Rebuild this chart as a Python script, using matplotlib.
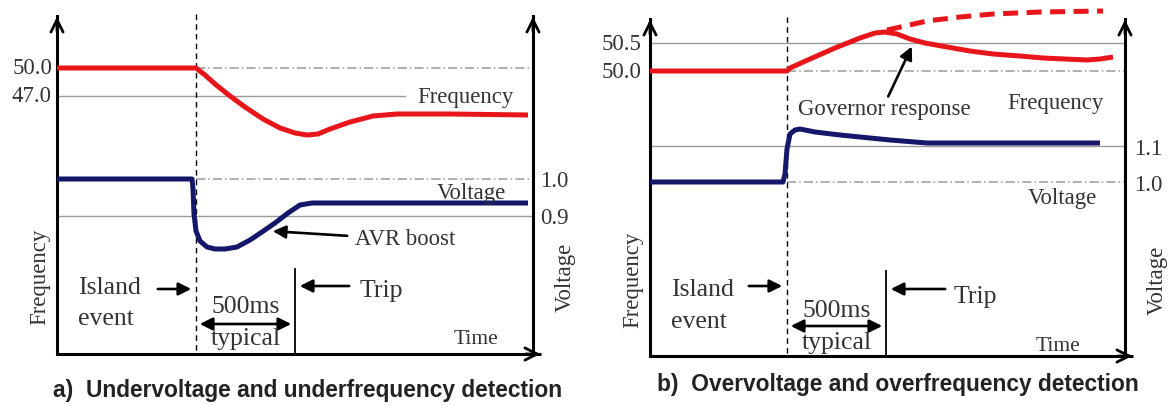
import matplotlib
matplotlib.use("Agg")
import matplotlib.pyplot as plt

# ---------------- data (schematic curves, in image units) ----------------
# Panel a: undervoltage / underfrequency
freq_a_x = [57, 196, 205, 215, 230, 245, 263, 280, 295, 307, 318, 330, 350, 373, 397, 450, 528]
freq_a_y = [69, 69, 76, 85, 97, 108, 120, 129, 134, 136, 135, 130, 123, 117, 115, 115, 116]
volt_a_x = [57, 192, 193, 194, 196, 200, 207, 215, 225, 237, 250, 262, 275, 288, 300, 312, 528]
volt_a_y = [180, 180, 190, 215, 232, 242, 248, 250, 250, 248, 241, 233, 224, 214, 206, 204, 204]
ticks_a_left = ["50.0", "47.0"]
ticks_a_left_y = [69, 97]
ticks_a_right = ["1.0", "0.9"]
ticks_a_right_y = [180, 217]

# Panel b: overvoltage / overfrequency
freq_b_x = [650, 787, 790, 810, 835, 860, 875, 885, 897, 910, 925, 947, 970, 993, 1020,
            1043, 1065, 1087, 1100, 1113]
freq_b_y = [72, 72, 69, 60, 49, 39, 34, 33, 35, 40, 44, 48, 52, 55, 57, 59, 60, 61, 60, 58]
freq_b_free_x = [887, 905, 927, 960, 993, 1040, 1103]
freq_b_free_y = [31, 27, 22, 18, 15, 13, 12]
volt_b_x = [650, 783, 785, 787, 790, 795, 800, 815, 840, 860, 890, 927, 1100]
volt_b_y = [183, 183, 175, 150, 135, 131, 130, 133, 136, 138, 141, 144, 144]
ticks_b_left = ["50.5", "50.0"]
ticks_b_left_y = [44, 72]
ticks_b_right = ["1.1", "1.0"]
ticks_b_right_y = [147, 183]

captions = ["a)  Undervoltage and underfrequency detection",
            "b)  Overvoltage and overfrequency detection"]

RED = "#e8161b"
BLUE = "#15176b"
GRID = "#9a9a9a"
TXT = "#333333"
SERIF = "Liberation Serif"
LW = 3.6

fig = plt.figure(figsize=(11.69, 4.06), dpi=100)
ax = fig.add_axes([0, 0, 1, 1])
ax.set_xlim(0, 1169)
ax.set_ylim(406, 0)
ax.axis("off")

DASHDOT = (0, (6, 2, 1, 2))


def frame(L, R, B, T, dash_x, trip_x, trip_top):
    ax.plot([L, R + 8], [B, B], color="black", lw=2.2, solid_capstyle="butt")
    ax.annotate("", xy=(R + 10, B), xytext=(R - 10, B),
                arrowprops=dict(arrowstyle="->", lw=2, color="black", mutation_scale=22))
    for xx in (L, R):
        ax.plot([xx, xx], [B, T + 2], color="black", lw=2.2)
        ax.annotate("", xy=(xx, T), xytext=(xx, T + 20),
                    arrowprops=dict(arrowstyle="->", lw=2, color="black", mutation_scale=22))
    ax.plot([dash_x, dash_x], [T, B], color="black", lw=1, ls=(0, (4, 3)))
    ax.plot([trip_x, trip_x], [trip_top, B], color="black", lw=1.3)


def arrow(tip, tail, both=False):
    ax.annotate("", xy=tip, xytext=tail,
                arrowprops=dict(arrowstyle="<|-|>" if both else "-|>", lw=1.9,
                                color="black", mutation_scale=19))


def txt(x, y, s, fs, ha="left", rot=0):
    ax.text(x, y, s, fontsize=fs, family=SERIF, ha=ha, va="center", rotation=rot, color=TXT)


# ---------------- panel a ----------------
La, Ra, Ba, Ta, Da, TRa = 57, 533, 355, 15, 196, 295
ax.plot([Da, Ra], [ticks_a_left_y[0]] * 2, color=GRID, lw=1.1, ls=DASHDOT)
ax.plot([La, 405], [ticks_a_left_y[1]] * 2, color=GRID, lw=1)
ax.plot([Da, Ra], [ticks_a_right_y[0]] * 2, color=GRID, lw=1.1, ls=DASHDOT)
ax.plot([La, Ra], [ticks_a_right_y[1]] * 2, color=GRID, lw=1)
frame(La, Ra, Ba, Ta, Da, TRa, 270)
ax.plot(freq_a_x, freq_a_y, color=RED, lw=LW, solid_joinstyle="round", solid_capstyle="butt")
ax.plot(volt_a_x, volt_a_y, color=BLUE, lw=LW, solid_joinstyle="round", solid_capstyle="butt")
for t, y in zip(ticks_a_left, ticks_a_left_y):
    txt(La - 5, y, t, 16.4, ha="right")
for t, y in zip(ticks_a_right, ticks_a_right_y):
    txt(Ra + 7, y + 2, t, 16.4)
txt(465, 98, "Frequency", 16.4, ha="center")
txt(471, 194, "Voltage", 16.4, ha="center")
txt(355, 240, "AVR boost", 16.4)
arrow((270, 232), (350, 237))
txt(78, 288, "Island", 18.5)
txt(78, 319, "event", 18.5)
arrow((Da - 2, 290), (155, 290))
arrow((TRa + 2, 287), (352, 287))
txt(360, 291, "Trip", 18.5)
txt((Da + TRa) / 2, 307, "500ms", 18.5, ha="center")
arrow((Da + 1, 325), (TRa - 1, 325), both=True)
txt((Da + TRa) / 2, 339, "typical", 18.5, ha="center")
txt(476, 340, "Time", 15.5, ha="center")
txt(40, 277, "Frequency", 16.4, ha="center", rot=90)
txt(565, 277, "Voltage", 16.4, ha="center", rot=90)
ax.text(53, 391, captions[0], fontsize=16.4, family="Liberation Sans", weight="bold",
        ha="left", va="center", color="#222222")

# ---------------- panel b ----------------
Lb, Rb, Bb, Tb, Db, TRb = 650, 1125, 357, 18, 787, 886
ax.plot([Lb, Rb], [ticks_b_left_y[0]] * 2, color=GRID, lw=1)
ax.plot([Db, Rb], [ticks_b_left_y[1]] * 2, color=GRID, lw=1.1, ls=DASHDOT)
ax.plot([Lb, Rb], [ticks_b_right_y[0]] * 2, color=GRID, lw=1)
ax.plot([Db, Rb], [ticks_b_right_y[1]] * 2, color=GRID, lw=1.1, ls=DASHDOT)
frame(Lb, Rb, Bb, Tb, Db, TRb, 272)
ax.plot(freq_b_x, freq_b_y, color=RED, lw=LW, solid_joinstyle="round", solid_capstyle="butt")
ax.plot(freq_b_free_x, freq_b_free_y, color=RED, lw=LW, ls=(0, (3, 1.7)))
ax.plot(volt_b_x, volt_b_y, color=BLUE, lw=LW, solid_joinstyle="round", solid_capstyle="butt")
for t, y in zip(ticks_b_left, ticks_b_left_y):
    txt(Lb - 9, y, t, 16.4, ha="right")
for t, y in zip(ticks_b_right, ticks_b_right_y):
    txt(Rb + 9, y + 3, t, 16.4)
txt(1055, 103, "Frequency", 16.4, ha="center")
txt(1062, 199, "Voltage", 16.4, ha="center")
txt(884, 110, "Governor response", 16.4, ha="center")
arrow((913, 45), (887, 100))
txt(671, 290, "Island", 18.5)
txt(671, 322, "event", 18.5)
arrow((Db - 2, 287), (746, 287))
arrow((TRb + 2, 290), (948, 290))
txt(954, 297, "Trip", 18.5)
txt((Db + TRb) / 2, 311, "500ms", 18.5, ha="center")
arrow((Db + 1, 327), (TRb - 1, 327), both=True)
txt((Db + TRb) / 2, 343, "typical", 18.5, ha="center")
txt(1058, 347, "Time", 15.5, ha="center")
txt(633, 280, "Frequency", 16.4, ha="center", rot=90)
txt(1157, 280, "Voltage", 16.4, ha="center", rot=90)
ax.text(657, 385, captions[1], fontsize=16.4, family="Liberation Sans", weight="bold",
        ha="left", va="center", color="#222222")

fig.savefig("out.png", dpi=100)
